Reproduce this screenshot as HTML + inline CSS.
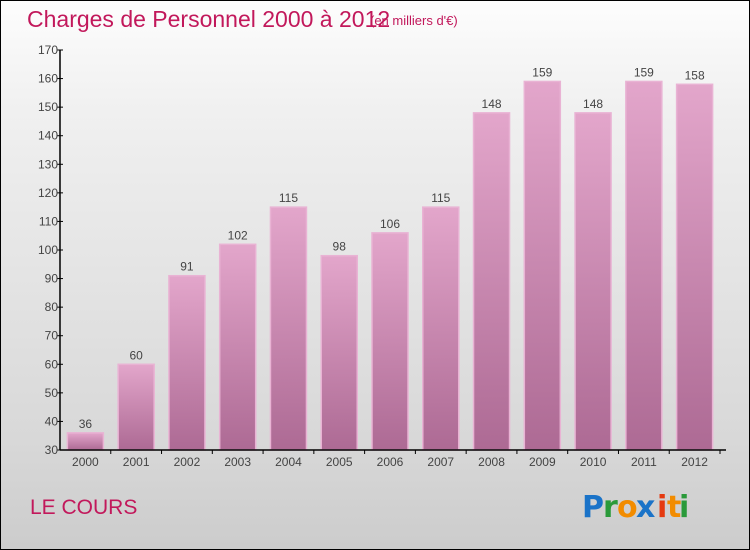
<!DOCTYPE html>
<html><head><meta charset="utf-8"><style>
body{margin:0;width:750px;height:550px;overflow:hidden;font-family:"Liberation Sans",sans-serif}
#wrap{position:absolute;left:0;top:0;width:748px;height:548px;border:1px solid #000;background:linear-gradient(#fdfdfd,#f0f0f0 20%,#d8d8d8 80%,#cccccc)}
</style></head><body>
<div id="wrap">
<svg width="750" height="550" style="position:absolute;left:-1px;top:-1px">
<defs>
<linearGradient id="bg" x1="0" y1="0" x2="0" y2="1"><stop offset="0" stop-color="#e3a6cb"/><stop offset="1" stop-color="#ad6a94"/></linearGradient>
</defs>
<text x="27" y="27" font-size="23" fill="#c2185b">Charges de Personnel 2000 à 2012</text>
<text x="370" y="25" font-size="13" fill="#c2185b">(en milliers d'€)</text>
<g id="yax"></g>
<g id="bars"></g>
<g id="xax"></g>
<text x="30" y="514" font-size="21" fill="#c2185b">LE COURS</text>
<g font-size="30" font-family="'DejaVu Sans',sans-serif" font-weight="bold">
<text x="582" y="517" fill="#1a73c8">P</text><text x="603" y="517" fill="#2a9a3a">r</text><text x="617" y="517" fill="#f28c00">o</text><text x="636" y="517" fill="#1a73c8">x</text><text x="657" y="517" fill="#e53a10">i</text><text x="667" y="517" fill="#f28c00">t</text><text x="679" y="517" fill="#2a9a3a">i</text>
</g>
</svg>
</div>
<script>
const categories=["2000","2001","2002","2003","2004","2005","2006","2007","2008","2009","2010","2011","2012"];
const values=[36,60,91,102,115,98,106,115,148,159,148,159,158];
const yTicks=[30,40,50,60,70,80,90,100,110,120,130,140,150,160,170];
const NS="http://www.w3.org/2000/svg";
const x0=60,x1=720,yb=450,yt=50,ymin=30,ymax=170;
const band=(x1-x0)/categories.length,bw=36;
const y=v=>yb-(v-ymin)/(ymax-ymin)*(yb-yt);
function mk(t,a,p){const e=document.createElementNS(NS,t);for(const k in a)e.setAttribute(k,a[k]);p.appendChild(e);return e;}
const yax=document.getElementById('yax'),bars=document.getElementById('bars'),xax=document.getElementById('xax');
const yl=mk('line',{x1:x0,y1:yt,x2:x0,y2:yb,stroke:'#000','stroke-width':1.5},yax);


yTicks.forEach(v=>{
 const tk=mk('line',{x1:x0-3,y1:y(v),x2:x0+3,y2:y(v),stroke:'#000'},yax);
 
 
 const t=mk('text',{x:x0-2,y:y(v)+4,'font-size':12,fill:'#444','text-anchor':'end'},yax);
 t.textContent=v;
 
 
});
const xl=mk('line',{x1:x0,y1:yb,x2:x1+6,y2:yb,stroke:'#000','stroke-width':1.5},xax);


categories.forEach((c,i)=>{
 const bx=x0+i*band+(band-bw)/2,cx=x0+i*band+band/2;
 const r=mk('rect',{x:bx,y:y(values[i]),width:bw,height:yb-y(values[i]),fill:'url(#bg)',stroke:'#e9b3d4','stroke-width':1.5},bars);
 
 
 const vt=mk('text',{x:cx,y:y(values[i])-5,'font-size':12,fill:'#444','text-anchor':'middle'},bars);
 vt.textContent=values[i];
 
 
 const tk=mk('line',{x1:x0+(i+1)*band,y1:yb,x2:x0+(i+1)*band,y2:yb+4,stroke:'#000'},xax);
 
 
 const xt=mk('text',{x:cx,y:yb+16,'font-size':12,fill:'#444','text-anchor':'middle'},xax);
 xt.textContent=c;
 
 
});
</script>
</body></html>
